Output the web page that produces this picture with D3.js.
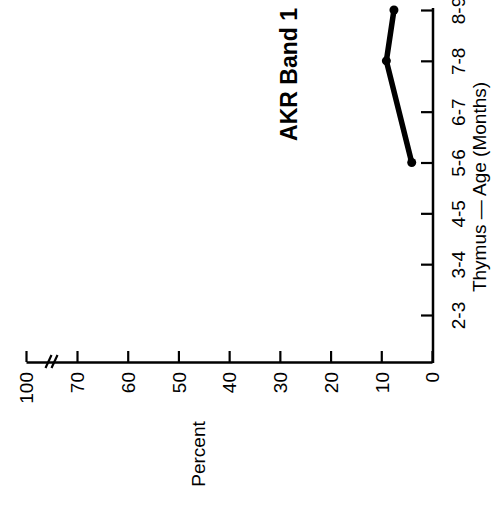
<!DOCTYPE html>
<html lang="en">
<head>
    <meta charset="UTF-8">
    <title>AKR Band 1</title>
    <style>
        body, html {
            margin: 0;
            padding: 0;
            background-color: #ffffff;
            font-family: 'Liberation Sans', Arial, sans-serif;
        }
        .axis path, .axis line {
            stroke: #000;
        }
        .axis text {
            font-size: 19px;
            fill: #000;
        }
        .label {
            font-size: 19px;
            fill: #000;
        }
        .title {
            font-size: 23px;
            font-weight: bold;
            fill: #000;
        }
    </style>
</head>
<body>
    <div id="chart"></div>

    <script src="https://d3js.org/d3.v7.min.js"></script>
    <script>
        // Data (chart is printed rotated 90 degrees)
        const ages = ["2-3", "3-4", "4-5", "5-6", "6-7", "7-8", "8-9"];
        const percentTicks = [0, 10, 20, 30, 40, 50, 60, 70, 100];
        const pointAges = ["5-6", "7-8", "8-9"];
        const pointValues = [4, 9, 7.5];

        const width = 501;
        const height = 510;

        const svg = d3.select("#chart")
            .append("svg")
            .attr("width", width)
            .attr("height", height);

        // Percent runs right-to-left, with a break between 70 and 100
        const x = d3.scaleLinear()
            .domain([0, 70, 100])
            .range([432, 77, 26]);

        const y = d3.scalePoint()
            .domain(ages)
            .range([315, 10]);

        const axisY = 362; // percent axis line
        const axisX = 433; // age axis line

        // Percent axis
        const gx = svg.append("g")
            .attr("class", "axis")
            .attr("transform", `translate(0, ${axisY})`)
            .call(d3.axisBottom(x).tickValues(percentTicks).tickSize(-11).tickSizeOuter(0));
        gx.select(".domain").attr("stroke-width", 2.5);
        gx.selectAll(".tick line").attr("stroke-width", 2.2);
        gx.selectAll(".tick text")
            .attr("transform", "rotate(-90)")
            .attr("text-anchor", "end")
            .attr("x", -10)
            .attr("y", 0)
            .attr("dy", "0.36em");

        // Break marks between 70 and 100
        const bx = x(85);
        [-3, 3].forEach(off => {
            svg.append("line")
                .attr("x1", bx + off - 3).attr("y1", axisY + 6)
                .attr("x2", bx + off + 3).attr("y2", axisY - 7)
                .attr("stroke", "#000")
                .attr("stroke-width", 2.2);
        });

        // Age axis
        const gy = svg.append("g")
            .attr("class", "axis")
            .attr("transform", `translate(${axisX}, 0)`)
            .call(d3.axisRight(y).tickSize(-12).tickSizeOuter(0));
        gy.select(".domain")
            .attr("d", `M0,${axisY + 1}V${y("8-9") - 2}`)
            .attr("stroke-width", 2.5);
        gy.selectAll(".tick line").attr("stroke-width", 2.2);
        gy.selectAll(".tick text")
            .attr("transform", "rotate(-90)")
            .attr("text-anchor", "middle")
            .attr("x", 0)
            .attr("y", 32)
            .attr("dy", 0);

        // Axis titles
        svg.append("text")
            .attr("class", "label")
            .attr("transform", `translate(205, 454) rotate(-90)`)
            .attr("text-anchor", "middle")
            .text("Percent");

        svg.append("text")
            .attr("class", "label")
            .attr("transform", `translate(486, 187) rotate(-90)`)
            .attr("text-anchor", "middle")
            .text("Thymus \u2014 Age (Months)");

        // Title
        svg.append("text")
            .attr("class", "title")
            .attr("transform", `translate(297, 8) rotate(-90)`)
            .attr("text-anchor", "end")
            .text("AKR Band 1");

        // Data line
        const pts = pointAges.map((a, i) => [x(pointValues[i]), y(a)]);
        svg.append("path")
            .datum(pts)
            .attr("fill", "none")
            .attr("stroke", "#000")
            .attr("stroke-width", 5.5)
            .attr("d", d3.line());

        svg.selectAll(".dot")
            .data(pts)
            .join("circle")
            .attr("class", "dot")
            .attr("cx", d => d[0])
            .attr("cy", d => d[1])
            .attr("r", 4.5)
            .attr("fill", "#000");
    </script>
</body>
</html>
